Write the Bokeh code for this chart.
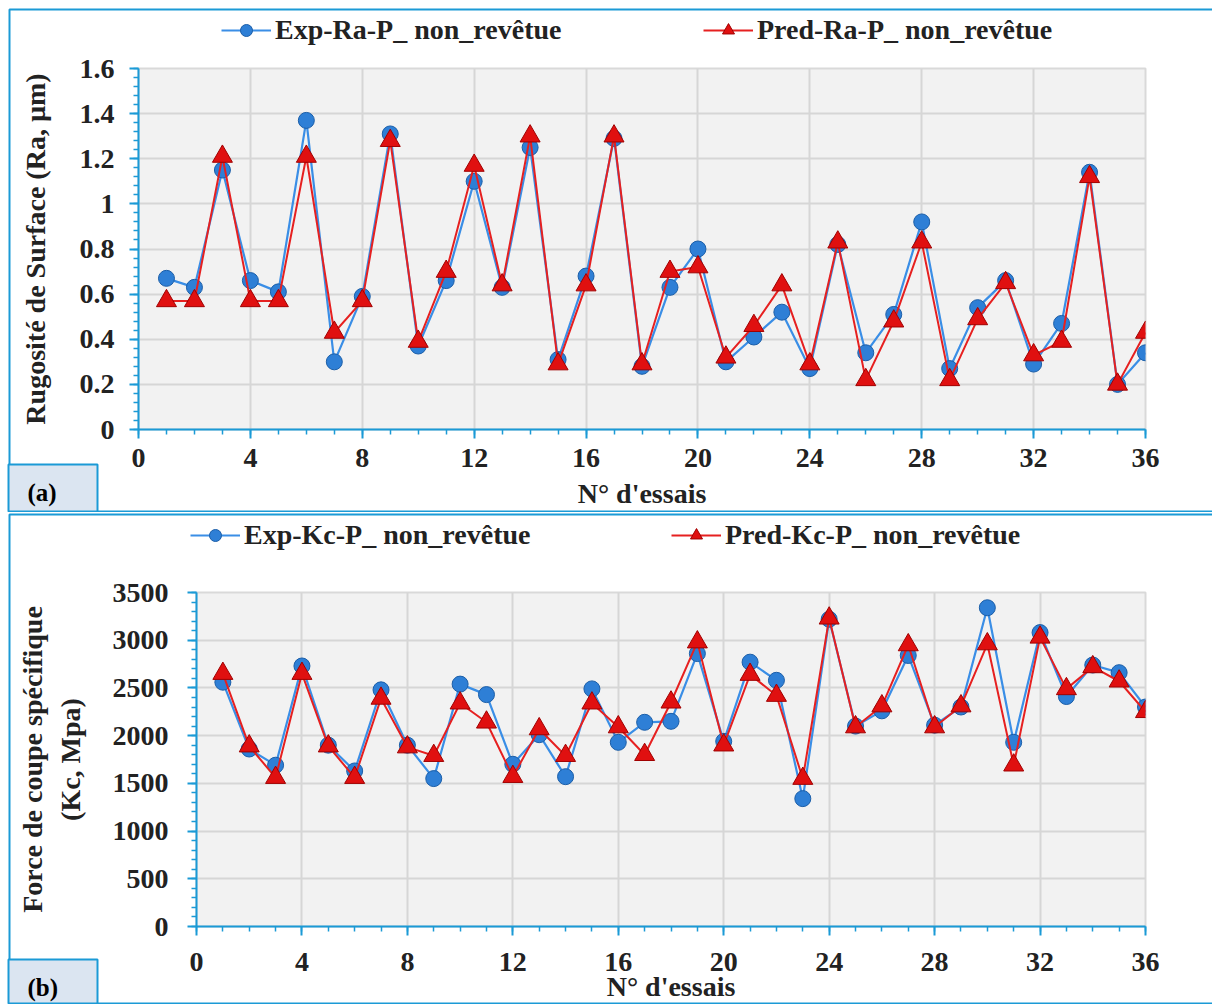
from bokeh.plotting import figure
from bokeh.models import (Range1d, Legend, LegendItem, FixedTicker, BoxAnnotation, Label,
                          GridBox)
from bokeh.embed import file_html
from bokeh.resources import INLINE

essais = list(range(1, 37))
exp_ra = [0.67, 0.63, 1.15, 0.66, 0.61, 1.37, 0.30, 0.59, 1.31, 0.37, 0.66, 1.10,
          0.63, 1.25, 0.31, 0.68, 1.29, 0.28, 0.63, 0.80, 0.30, 0.41, 0.52, 0.27,
          0.82, 0.34, 0.51, 0.92, 0.27, 0.54, 0.66, 0.29, 0.47, 1.14, 0.20, 0.34]
pred_ra = [0.57, 0.57, 1.21, 0.57, 0.57, 1.21, 0.43, 0.57, 1.28, 0.39, 0.70, 1.17,
           0.64, 1.30, 0.29, 0.64, 1.30, 0.29, 0.70, 0.72, 0.32, 0.46, 0.64, 0.29,
           0.83, 0.22, 0.48, 0.83, 0.22, 0.49, 0.65, 0.33, 0.39, 1.12, 0.20, 0.43]
exp_kc = [2560, 1860, 1690, 2730, 1900, 1630, 2480, 1900, 1550, 2540, 2430, 1700,
          2010, 1570, 2490, 1930, 2140, 2150, 2860, 1940, 2770, 2580, 1340, 3220,
          2100, 2260, 2840, 2110, 2300, 3340, 1930, 3080, 2410, 2740, 2660, 2300]
pred_kc = [2650, 1890, 1560, 2650, 1890, 1560, 2390, 1880, 1790, 2340, 2140, 1570,
           2070, 1790, 2340, 2090, 1800, 2350, 2980, 1900, 2640, 2420, 1550, 3230,
           2090, 2310, 2950, 2090, 2310, 2960, 1690, 3030, 2490, 2720, 2570, 2250]

x_ticks = [0, 4, 8, 12, 16, 20, 24, 28, 32, 36]
ra_ticks = [0, 0.2, 0.4, 0.6, 0.8, 1.0, 1.2, 1.4, 1.6]
ra_tick_labels = ["0", "0.2", "0.4", "0.6", "0.8", "1", "1.2", "1.4", "1.6"]
kc_ticks = [0, 500, 1000, 1500, 2000, 2500, 3000, 3500]
kc_tick_labels = ["0", "500", "1000", "1500", "2000", "2500", "3000", "3500"]

BLUE_AX = "#1b9ad6"
TXT = "#222222"
FONT = "Liberation Serif"
W = 1212
FRAME_RIGHT = 1145

EXP_LINE = dict(line_color="#3a8ee6", line_width=2.2)
EXP_MARK = dict(marker="circle", size=16, fill_color="#2e7fd6", line_color="#1b5ea8", line_width=1)
PRED_LINE = dict(line_color="#e62020", line_width=2)
PRED_MARK = dict(marker="triangle", size=20, fill_color="#e01010", line_color="#a00000", line_width=1)


def no_align(p):
    if "frame_align" in p.properties():
        p.frame_align = False


def make_panel(exp, pred, yticks, ylabels, yminor, ymax, ylabel,
               height, mb_left, mb_top, mb_bottom,
               xl_standoff, xlab_standoff, yl_standoff, ylab_standoff):
    p = figure(width=W, height=height, output_backend="svg", toolbar_location=None,
               x_range=Range1d(0, 36), y_range=Range1d(0, ymax),
               min_border_left=mb_left, min_border_right=W - FRAME_RIGHT,
               min_border_top=mb_top, min_border_bottom=mb_bottom,
               background_fill_color="#f2f2f2", border_fill_color="white",
               outline_line_color="#d9d9d9", outline_line_width=2)
    no_align(p)
    p.line(essais, exp, **EXP_LINE)
    p.scatter(essais, exp, **EXP_MARK)
    p.line(essais, pred, **PRED_LINE)
    p.scatter(essais, pred, **PRED_MARK)

    p.xaxis.ticker = FixedTicker(ticks=x_ticks, minor_ticks=list(range(0, 37)))
    p.yaxis.ticker = FixedTicker(ticks=yticks, minor_ticks=yminor)
    p.yaxis.major_label_overrides = {t: l for t, l in zip(yticks, ylabels)}
    for ax in (p.xaxis[0], p.yaxis[0]):
        ax.axis_line_color = BLUE_AX
        ax.axis_line_width = 2
        ax.major_tick_line_color = BLUE_AX
        ax.minor_tick_line_color = BLUE_AX
        ax.major_tick_line_width = 2
        ax.minor_tick_line_width = 1.5
        ax.major_tick_out = 9
        ax.major_tick_in = 0
        ax.minor_tick_out = 5
        ax.minor_tick_in = 0
        ax.major_label_text_font = FONT
        ax.major_label_text_font_style = "bold"
        ax.major_label_text_font_size = "28px"
        ax.major_label_text_color = TXT
        ax.axis_label_text_font = FONT
        ax.axis_label_text_font_style = "bold"
        ax.axis_label_text_font_size = "28px"
        ax.axis_label_text_color = TXT
    p.xaxis.axis_label = "N° d'essais"
    p.xaxis.major_label_standoff = xl_standoff
    p.xaxis.axis_label_standoff = xlab_standoff
    p.yaxis.axis_label = ylabel
    p.yaxis.major_label_standoff = yl_standoff
    p.yaxis.axis_label_standoff = ylab_standoff

    p.xgrid.ticker = FixedTicker(ticks=x_ticks)
    p.ygrid.ticker = FixedTicker(ticks=yticks)
    p.xgrid.grid_line_color = "#d6d6d6"
    p.ygrid.grid_line_color = "#d6d6d6"
    p.xgrid.grid_line_width = 2
    p.ygrid.grid_line_width = 2
    return p


def make_overlay(exp, pred, height, leg_exp, leg_pred, leg_center_y, leg_x1, leg_x2,
                 border_top, tag, tag_top, tag_text_y):
    # transparent figure laid over the panel; its frame is the whole canvas,
    # so legend, panel border and tag box are not clipped
    o = figure(width=W, height=height, output_backend="svg", toolbar_location=None,
               x_range=Range1d(0, W), y_range=Range1d(0, height),
               x_axis_type=None, y_axis_type=None, min_border=0,
               background_fill_alpha=0, border_fill_alpha=0, outline_line_color=None)
    no_align(o)
    o.grid.visible = False
    o.title.visible = False
    # legend-only copies of the series, mapped to a range that puts them outside the view
    o.extra_x_ranges = {"hidden": Range1d(1000, 2000)}
    ol1 = o.line(essais, exp, x_range_name="hidden", **EXP_LINE)
    os1 = o.scatter(essais, exp, x_range_name="hidden", **EXP_MARK)
    ol2 = o.line(essais, pred, x_range_name="hidden", **PRED_LINE)
    os2 = o.scatter(essais, pred, x_range_name="hidden", **PRED_MARK)

    def up(canvas_y):
        return height - canvas_y

    common = dict(orientation="horizontal", label_text_font=FONT, label_text_font_style="bold",
                  label_text_font_size="28px", label_text_color=TXT,
                  glyph_width=50, glyph_height=30, label_height=30, padding=0, margin=0,
                  label_standoff=4, border_line_alpha=0, background_fill_alpha=0)
    for lbl, rs, x in ((leg_exp, [ol1, os1], leg_x1), (leg_pred, [ol2, os2], leg_x2)):
        o.add_layout(Legend(items=[LegendItem(label=lbl, renderers=rs)],
                            location=(x, up(leg_center_y + 16)), **common))

    scr = dict(left_units="screen", right_units="screen", top_units="screen", bottom_units="screen")
    o.add_layout(BoxAnnotation(left=9, right=W + 10, top=up(border_top), bottom=up(height - 1),
                               fill_alpha=0, line_color=BLUE_AX, line_alpha=1, line_width=2, **scr))
    o.add_layout(BoxAnnotation(left=8, right=97, top=up(tag_top), bottom=up(height - 1),
                               fill_color="#dbe5f1", fill_alpha=1,
                               line_color=BLUE_AX, line_alpha=1, line_width=2, **scr))
    o.add_layout(Label(x=27, y=up(tag_text_y), x_units="screen", y_units="screen",
                       text=tag, text_font=FONT, text_font_style="bold",
                       text_font_size="25px", text_color="black", text_baseline="middle"))
    return o


HA, HB = 512, 492
pa = make_panel(exp_ra, pred_ra, ra_ticks, ra_tick_labels,
                [round(i * 0.04, 2) for i in range(41)], 1.6,
                "Rugosité de Surface (Ra, µm)",
                HA, 138, 68, 83, 10, 8, 15, 26)
oa = make_overlay(exp_ra, pred_ra, HA, "Exp-Ra-P_ non_revêtue", "Pred-Ra-P_ non_revêtue",
                  30, 221, 703, 9, "(a)", 464, 492)
pb = make_panel(exp_kc, pred_kc, kc_ticks, kc_tick_labels,
                list(range(0, 3501, 100)), 3500,
                "Force de coupe spécifique\n(Kc, Mpa)",
                HB, 196, 80, 74, 17, -3, 19, 24)
ob = make_overlay(exp_kc, pred_kc, HB, "Exp-Kc-P_ non_revêtue", "Pred-Kc-P_ non_revêtue",
                  23, 190, 671, 2, "(b)", 447, 475)

layout = GridBox(children=[(pa, 0, 0), (oa, 0, 0), (pb, 1, 0), (ob, 1, 0)])
open("out.html", "w").write(file_html(layout, INLINE))
